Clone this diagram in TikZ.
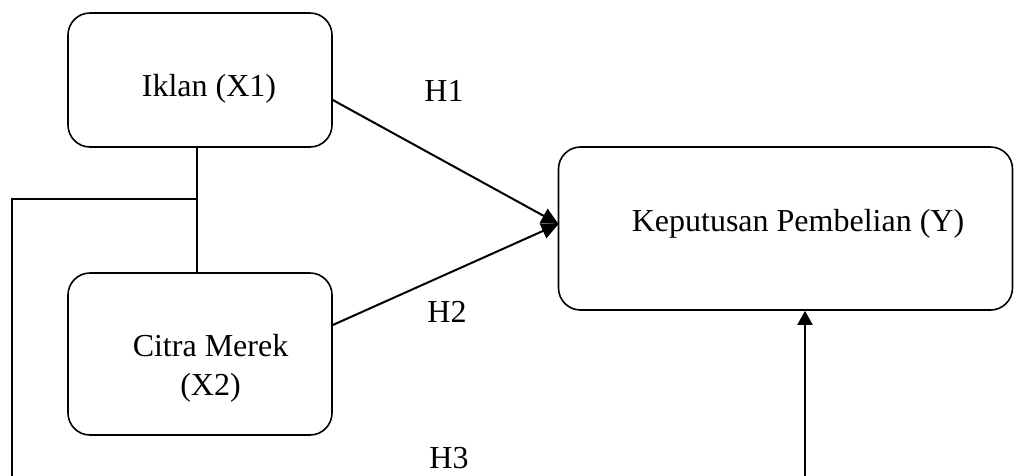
\documentclass[tikz,border=0pt]{standalone}
\usepackage{fontspec}
\setmainfont{Liberation Serif}
\usetikzlibrary{arrows.meta}
\begin{document}
\begin{tikzpicture}[x=1pt,y=-1pt,
  box/.style={draw=black, line width=1.6pt, rounded corners=22pt, inner sep=0pt},
  txt/.style={anchor=base, inner sep=0pt, font=\fontsize{32}{39}\selectfont},
  conn/.style={draw=black, line width=2pt},
  arr/.style={conn, -{Triangle[length=17pt,width=16pt]}},
  arrup/.style={conn, -{Triangle[length=14pt,width=15pt]}}]
\useasboundingbox (0,0) rectangle (1014,475);
% boxes
\node[box, minimum width=264pt, minimum height=134pt] (x1) at (200,80) {};
\node[box, minimum width=264pt, minimum height=162pt] (x2) at (200,354) {};
\node[box, minimum width=454pt, minimum height=163pt] (y) at (785.5,228.5) {};
% texts
\node[txt] (x1t) at (209,96) {Iklan (X1)};
\node[txt] (x2t1) at (210.5,356) {Citra Merek};
\node[txt] (x2t2) at (210.5,395) {(X2)};
\node[txt] (yt) at (798,231) {Keputusan Pembelian (Y)};
\node[txt] (h1) at (444,101) {H1};
\node[txt] (h2) at (447,322) {H2};
\node[txt] (h3) at (449,468) {H3};
% coordinates
\coordinate (tip) at (558.5,224);
\coordinate (j) at (197,199);
\coordinate (lc) at (12,199);
\coordinate (lb) at (12,476);
\coordinate (rb) at (805,476);
% connectors
\draw[arr] (x1.east |- 0,100) -- (tip);
\draw[arr] (x2.east |- 0,325) -- (tip);
\draw[conn] (x1.south -| j) -- (x2.north -| j);
\draw[conn] (j) -- (lc) -- (lb);
\draw[arrup] (rb) -- (y.south -| rb);
\end{tikzpicture}
\end{document}
